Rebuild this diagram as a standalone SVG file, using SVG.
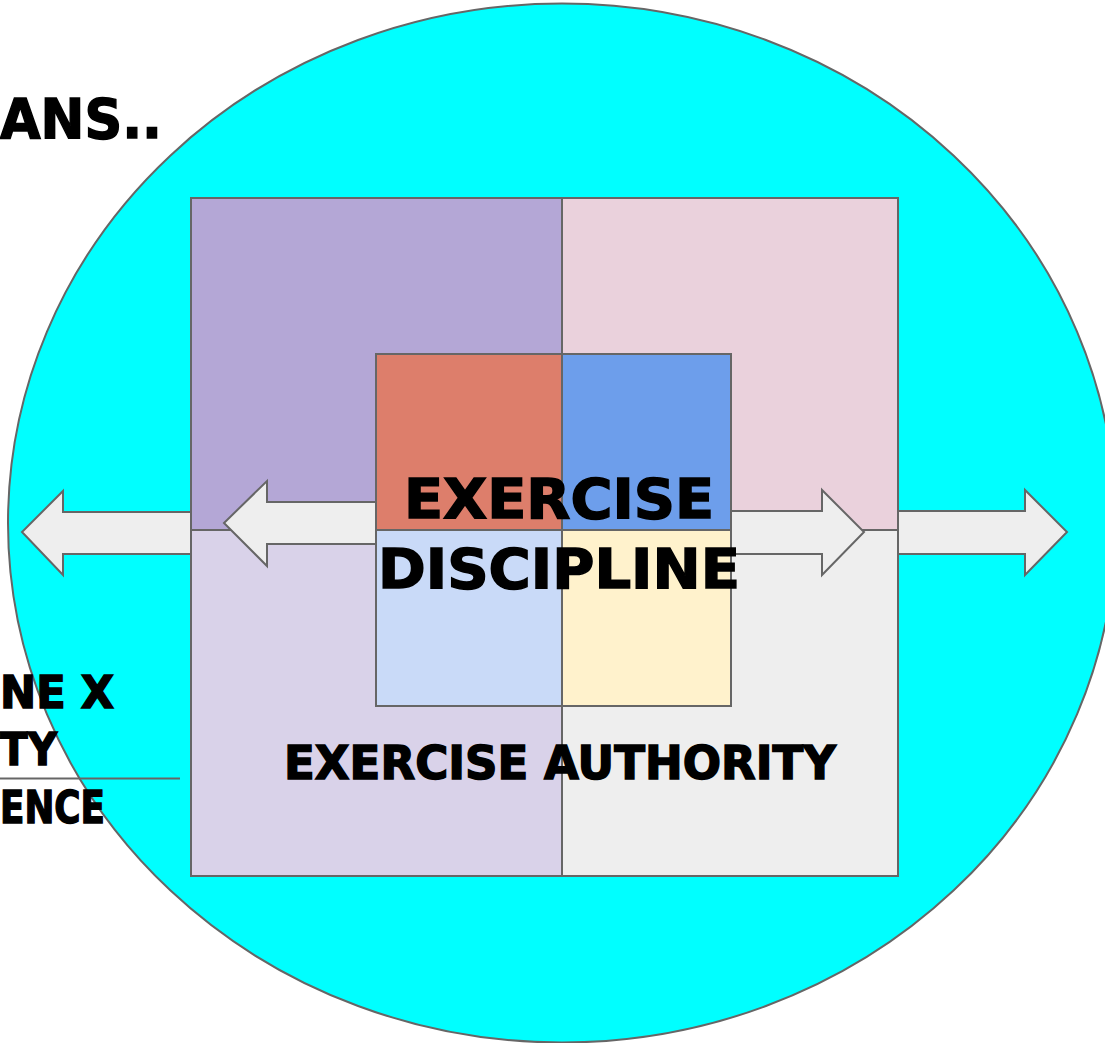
<svg xmlns="http://www.w3.org/2000/svg" width="1105" height="1043" viewBox="0 0 1105 1043">
<style>
.s{stroke:#666666;stroke-width:2}
.arr{fill:#eeeeee;stroke:#666666;stroke-width:2;stroke-linejoin:miter}
.t{font-family:"DejaVu Sans","Liberation Sans",sans-serif;font-weight:900;fill:#000000;stroke:#000000;stroke-width:1.5}
</style>
<rect width="1105" height="1043" fill="#ffffff"/>
<g id="circle">
<ellipse cx="562" cy="523" rx="554" ry="519.5" fill="#00ffff" class="s"/>
</g>
<g id="outer-square">
<rect x="191" y="198" width="371" height="332" fill="#b4a7d6" class="s"/>
<rect x="562" y="198" width="336" height="332" fill="#ead1dc" class="s"/>
<rect x="191" y="530" width="371" height="346" fill="#d9d2e9" class="s"/>
<rect x="562" y="530" width="336" height="346" fill="#eeeeee" class="s"/>
</g>
<g id="connectors">
<polygon class="arr" points="191,512 63,512 63,491 22,532 63,575 63,554 191,554"/>
<polygon class="arr" points="376,502 267,502 267,481 224,523 267,566 267,544 376,544"/>
<polygon class="arr" points="731,511 822,511 822,490 864,532 822,575 822,554 731,554"/>
<polygon class="arr" points="898,511 1025,511 1025,490 1067,532 1025,575 1025,554 898,554"/>
</g>
<g id="inner-square">
<rect x="376" y="354" width="186" height="176" fill="#dd7e6b" class="s"/>
<rect x="562" y="354" width="169" height="176" fill="#6d9eeb" class="s"/>
<rect x="376" y="530" width="186" height="176" fill="#c9daf8" class="s"/>
<rect x="562" y="530" width="169" height="176" fill="#fff2cc" class="s"/>
</g>
<g id="line">
<line x1="0" y1="778.5" x2="180" y2="778.5" class="s"/>
</g>
<g id="labels">
<text class="t" x="404" y="518" font-size="55" textLength="310" lengthAdjust="spacingAndGlyphs">EXERCISE</text>
<text class="t" x="378" y="588" font-size="55" textLength="362" lengthAdjust="spacingAndGlyphs">DISCIPLINE</text>
<text class="t" x="284" y="779" font-size="46" textLength="552" lengthAdjust="spacingAndGlyphs">EXERCISE AUTHORITY</text>
<text class="t" x="0" y="138" font-size="56" textLength="162" lengthAdjust="spacingAndGlyphs">ANS..</text>
<text class="t" x="0" y="708" font-size="44" textLength="114" lengthAdjust="spacingAndGlyphs">NE X</text>
<text class="t" x="0" y="765" font-size="44" textLength="57" lengthAdjust="spacingAndGlyphs">TY</text>
<text class="t" x="0" y="823" font-size="44" textLength="105" lengthAdjust="spacingAndGlyphs">ENCE</text>
</g>
</svg>
